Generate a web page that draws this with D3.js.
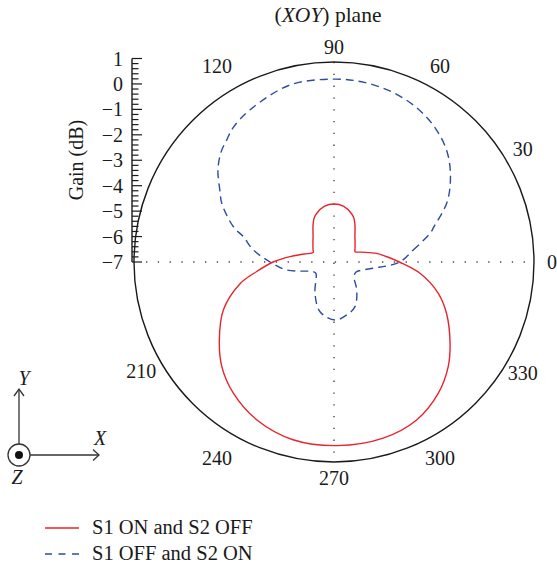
<!DOCTYPE html>
<html>
<head>
<meta charset="utf-8">
<script src="https://cdn.jsdelivr.net/npm/d3@7/dist/d3.min.js"></script>
<style>
  html, body { margin: 0; padding: 0; background: #fff; }
  svg { display: block; font-family: "Liberation Serif", "DejaVu Serif", serif; }
</style>
</head>
<body>
<svg id="chart" width="557" height="567"></svg>
<script>
// Radiation pattern in the XOY plane, gain in dB versus azimuth (degrees, CCW from +X)
const angleTicks = [0, 30, 60, 90, 120, 210, 240, 270, 300, 330];
const gainTicks = [-7, -6, -5, -4, -3, -2, -1, 0, 1];

const seriesNames = ["S1 ON and S2 OFF", "S1 OFF and S2 ON"];

const redAngles = [0, 6, 11.5, 20, 26, 30, 35, 40, 45, 50, 55, 60, 65, 70, 80, 90,
  100, 110, 115, 120, 125, 130, 135, 140, 145, 150, 155, 165, 173, 180, 187, 193,
  203.4, 214.2, 223, 232.5, 244, 257, 271, 285.6, 297.6, 308.5, 317.5, 325, 335.5,
  343.3, 352.5];
const redGains = [-4.43, -4.93, -5.29, -5.87, -6.08, -6.05, -5.99, -5.92, -5.83, -5.72,
  -5.56, -5.35, -5.13, -4.98, -4.78, -4.72, -4.78, -4.98, -5.13, -5.35, -5.56, -5.72,
  -5.83, -5.92, -5.99, -6.05, -6.10, -5.79, -5.26, -4.61, -3.94, -3.21, -2.26, -1.55,
  -0.97, -0.50, -0.09, 0.17, 0.22, 0.19, 0.01, -0.41, -0.91, -1.43, -2.14, -2.72, -3.59];

const blueAngles = [0, 8.6, 16.6, 19.6, 27.8, 36, 44.3, 52.9, 61.8, 71, 80.4, 90, 104,
  119, 127, 131.3, 135.7, 141.5, 148.5, 152.4, 160.7, 164.4, 171.5, 180, 189.6, 205,
  212, 238.7, 254.3, 271, 283.5, 295.2, 309, 323.7, 331.7, 337, 351, 355.7];
const blueGains = [-4.41, -3.85, -3.06, -2.82, -1.98, -1.34, -0.79, -0.40, -0.12, 0.06,
  0.16, 0.19, 0.17, -0.17, -0.40, -0.61, -0.80, -1.17, -1.75, -2.02, -2.81, -3.30, -3.79,
  -4.49, -5.11, -6.10, -6.16, -5.56, -4.97, -4.72, -4.86, -5.06, -5.58, -6.03, -6.06,
  -6.03, -5.44, -4.92];

const cx = 334, cy = 262, R = 200;
const ink = "#1a1a1a";
const red = "#e8232b";
const blue = "#2d4c9c";

const svg = d3.select("#chart");
const r = d3.scaleLinear().domain([-7, 1]).range([0, 203.5]);
const toRad = d => d * Math.PI / 180;

const plot = svg.append("g").attr("transform", `translate(${cx},${cy})`);

// dotted cross-hairs through the origin
plot.append("line").attr("x1", -R + 12).attr("x2", R).attr("y1", 0).attr("y2", 0)
  .attr("stroke", "#444").attr("stroke-width", 1.4).attr("stroke-dasharray", "1.3 10.5");
plot.append("line").attr("y1", -R).attr("y2", R).attr("x1", 0).attr("x2", 0)
  .attr("stroke", "#444").attr("stroke-width", 1.4).attr("stroke-dasharray", "1.3 10.5");

// outer ring
plot.append("circle").attr("r", R).attr("fill", "none").attr("stroke", ink).attr("stroke-width", 1.4);

// angle labels: diagonal labels sit a little further out than axial ones
const isDiag = d => Math.abs(Math.sin(toRad(d))) > 0.8 && Math.abs(Math.cos(toRad(d))) > 0.3;
const labelDist = d => isDiag(d) ? 226 : 218;
const labelDx = d => {
  const c = Math.cos(toRad(d));
  if (c < -0.1) return -4;
  if (isDiag(d)) return -7;
  return 0;
};
const labelDy = d => d === 90 ? 3 : d === 270 ? -2 : d === 30 ? -4 : d === 330 ? 2 : 0;
plot.selectAll("text.ang").data(angleTicks).enter().append("text")
  .attr("class", "ang")
  .attr("x", d => labelDist(d) * Math.cos(toRad(d)) + labelDx(d))
  .attr("y", d => -labelDist(d) * Math.sin(toRad(d)) + labelDy(d))
  .attr("text-anchor", "middle").attr("dominant-baseline", "central")
  .attr("font-size", 20).attr("fill", ink)
  .text(d => d);

// radial curves
const radial = d3.lineRadial()
  .angle(d => toRad(90 - d[0]))
  .radius(d => r(d[1]))
  .curve(d3.curveCatmullRomClosed.alpha(0.5));

const redData = redAngles.map((a, i) => [a, redGains[i]]);
const blueData = blueAngles.map((a, i) => [a, blueGains[i]]);

plot.append("path").datum(blueData).attr("d", radial)
  .attr("fill", "none").attr("stroke", blue).attr("stroke-width", 1.4)
  .attr("stroke-dasharray", "8 5");
plot.append("path").datum(redData).attr("d", radial)
  .attr("fill", "none").attr("stroke", red).attr("stroke-width", 1.4);

// gain axis on the left, from the origin upward
const axisX = 132;
const yGain = d3.scaleLinear().domain([-7, 1]).range([cy, cy - 203.5]);
const ax = svg.append("g").attr("transform", `translate(${axisX},0)`);
ax.append("line").attr("y1", yGain(-7)).attr("y2", yGain(1)).attr("stroke", ink).attr("stroke-width", 1.4);
const minor = d3.range(-7, 1.0001, 0.2).map(v => Math.round(v * 10) / 10);
ax.selectAll("line.tk").data(minor).enter().append("line")
  .attr("class", "tk")
  .attr("x1", 0)
  .attr("x2", d => Number.isInteger(d) ? 10 : 6.5)
  .attr("y1", d => yGain(d)).attr("y2", d => yGain(d))
  .attr("stroke", ink).attr("stroke-width", 1.2);
ax.selectAll("text").data(gainTicks).enter().append("text")
  .attr("x", -9).attr("y", d => yGain(d))
  .attr("text-anchor", "end").attr("dominant-baseline", "central")
  .attr("font-size", 20).attr("fill", ink)
  .text(d => d < 0 ? "\u2212" + Math.abs(d) : String(d));

svg.append("text")
  .attr("transform", "translate(76,160) rotate(-90)")
  .attr("text-anchor", "middle").attr("dominant-baseline", "central")
  .attr("font-size", 20).attr("fill", ink)
  .text("Gain (dB)");

// title
const title = svg.append("text").attr("x", 328).attr("y", 22)
  .attr("text-anchor", "middle").attr("font-size", 21.5).attr("fill", ink);
title.append("tspan").text("(");
title.append("tspan").attr("font-style", "italic").text("XOY");
title.append("tspan").text(") plane");

// coordinate system glyph
const cs = svg.append("g").attr("stroke", "#333").attr("stroke-width", 1.3).attr("fill", "none");
const ox = 19, oy = 455;
cs.append("circle").attr("cx", ox).attr("cy", oy).attr("r", 11);
cs.append("circle").attr("cx", ox).attr("cy", oy).attr("r", 4).attr("fill", "#111").attr("stroke", "none");
cs.append("line").attr("x1", ox + 11).attr("x2", 99).attr("y1", oy).attr("y2", oy);
cs.append("path").attr("d", `M${93},${oy - 5.5} L${99},${oy} L${93},${oy + 5.5}`);
cs.append("line").attr("x1", ox).attr("x2", ox).attr("y1", oy - 11).attr("y2", 389);
cs.append("path").attr("d", `M${ox - 5},${396} L${ox},${389} L${ox + 5},${396}`);
const axLab = [["X", 100, 438], ["Y", 24, 378], ["Z", 17, 477]];
svg.selectAll("text.cs").data(axLab).enter().append("text")
  .attr("class", "cs")
  .attr("x", d => d[1]).attr("y", d => d[2])
  .attr("text-anchor", "middle").attr("dominant-baseline", "central")
  .attr("font-size", 20).attr("font-style", "italic").attr("fill", ink)
  .text(d => d[0]);

// legend
const legend = svg.append("g");
const legY = [528, 554];
legend.selectAll("line").data(seriesNames).enter().append("line")
  .attr("x1", 45).attr("x2", 79)
  .attr("y1", (d, i) => legY[i]).attr("y2", (d, i) => legY[i])
  .attr("stroke", (d, i) => i === 0 ? red : blue)
  .attr("stroke-width", 1.4)
  .attr("stroke-dasharray", (d, i) => i === 0 ? null : "7 6.5");
legend.selectAll("text").data(seriesNames).enter().append("text")
  .attr("x", 92).attr("y", (d, i) => legY[i] + 6)
  .attr("font-size", 20.5).attr("fill", ink)
  .text(d => d);
</script>
</body>
</html>
